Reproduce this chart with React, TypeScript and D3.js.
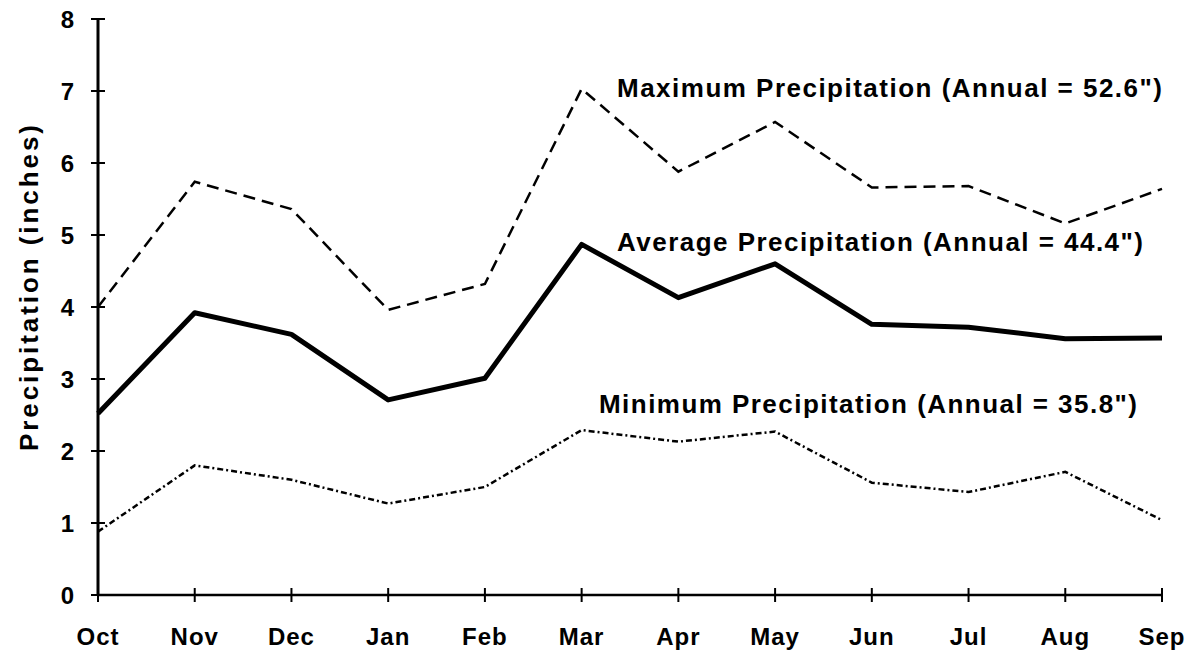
import React from "react";
import * as d3 from "d3";

const months = ["Oct", "Nov", "Dec", "Jan", "Feb", "Mar", "Apr", "May", "Jun", "Jul", "Aug", "Sep"];
const maxPrecip = [4.0, 5.74, 5.36, 3.96, 4.32, 7.03, 5.88, 6.57, 5.66, 5.68, 5.16, 5.64];
const avgPrecip = [2.52, 3.92, 3.62, 2.71, 3.01, 4.87, 4.13, 4.6, 3.76, 3.72, 3.56, 3.57];
const minPrecip = [0.88, 1.8, 1.6, 1.27, 1.5, 2.29, 2.13, 2.27, 1.56, 1.43, 1.71, 1.04];
const yTicks = [0, 1, 2, 3, 4, 5, 6, 7, 8];

const seriesLabels = [
  { text: "Maximum Precipitation (Annual = 52.6\")", x: 617, y: 97, len: 545 },
  { text: "Average Precipitation (Annual = 44.4\")", x: 617, y: 251, len: 526 },
  { text: "Minimum Precipitation (Annual = 35.8\")", x: 599, y: 413, len: 538 },
];

const W = 1195;
const H = 656;
const FONT = "'Liberation Sans', Arial, Helvetica, sans-serif";

export default function App() {
  const x = d3.scalePoint<string>().domain(months).range([98, 1162]);
  const y = d3.scaleLinear().domain([0, 8]).range([595, 19]);
  const line = d3
    .line<number>()
    .x((_, i) => x(months[i]) as number)
    .y((d) => y(d));

  return (
    <svg
      width={W}
      height={H}
      style={{ position: "absolute", left: 0, top: 0, background: "#fff" }}
      fontFamily={FONT}
    >
      <rect width={W} height={H} fill="#fff" />
      <line x1={98} x2={98} y1={y(8)} y2={y(0)} stroke="#000" strokeWidth={3} />
      <line x1={98} x2={1162} y1={y(0)} y2={y(0)} stroke="#000" strokeWidth={2.5} />
      {yTicks.map((t) => (
        <g key={t}>
          <line x1={91} x2={105} y1={y(t)} y2={y(t)} stroke="#000" strokeWidth={2} />
          <text x={74} y={y(t)} dy="0.36em" textAnchor="end" fontSize={24} fontWeight="bold">
            {t}
          </text>
        </g>
      ))}
      {months.map((m) => (
        <g key={m}>
          <line
            x1={x(m) as number}
            x2={x(m) as number}
            y1={y(0) - 7}
            y2={y(0) + 7}
            stroke="#000"
            strokeWidth={2}
          />
          <text
            x={x(m) as number}
            y={645}
            textAnchor="middle"
            fontSize={24}
            fontWeight="bold"
            letterSpacing={1}
          >
            {m}
          </text>
        </g>
      ))}
      <text
        transform="translate(38,288) rotate(-90)"
        textAnchor="middle"
        fontSize={26}
        fontWeight="bold"
        textLength={326}
        lengthAdjust="spacing"
      >
        Precipitation (inches)
      </text>
      <path d={line(maxPrecip) || ""} fill="none" stroke="#000" strokeWidth={2.5} strokeDasharray="12,7" />
      <path d={line(avgPrecip) || ""} fill="none" stroke="#000" strokeWidth={5} strokeLinejoin="round" />
      <path d={line(minPrecip) || ""} fill="none" stroke="#000" strokeWidth={2.5} strokeDasharray="6,3,2,3" />
      {seriesLabels.map((l) => (
        <text
          key={l.text}
          x={l.x}
          y={l.y}
          fontSize={26}
          fontWeight="bold"
          textLength={l.len}
          lengthAdjust="spacing"
        >
          {l.text}
        </text>
      ))}
    </svg>
  );
}
